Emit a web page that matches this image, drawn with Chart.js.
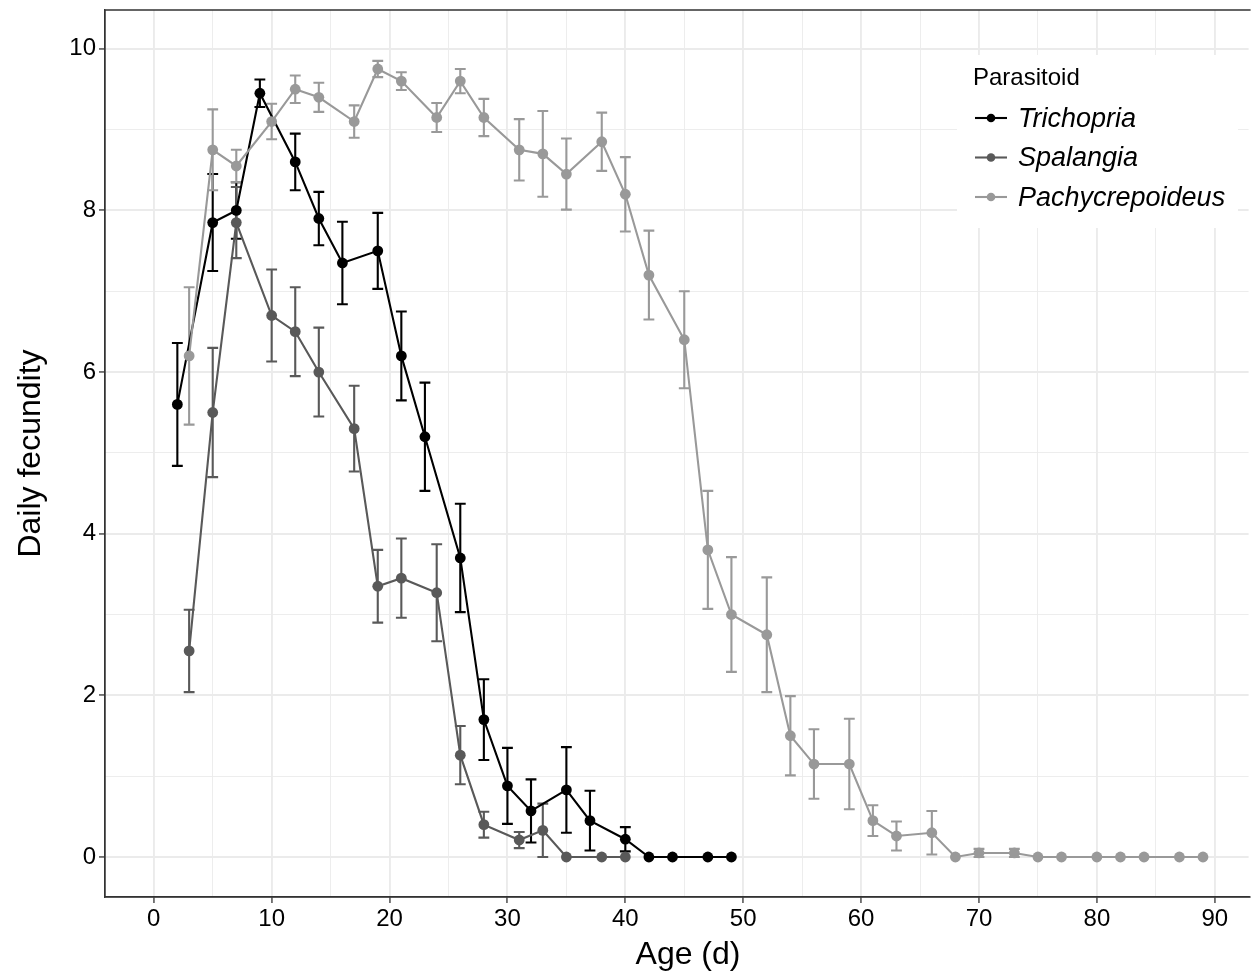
<!DOCTYPE html>
<html>
<head>
<meta charset="utf-8">
<title>Daily fecundity by parasitoid age</title>
<script src="https://cdn.jsdelivr.net/npm/chart.js@4.4.1/dist/chart.umd.min.js"></script>
<style>
  html, body { margin: 0; padding: 0; background: #ffffff; overflow: hidden; }
  #chart { display: block; }
</style>
</head>
<body>
<canvas id="chart" width="1254" height="973"></canvas>
<script>
// Age (days), mean daily fecundity and standard error for each parasitoid
const trichopriaAge  = [2, 5, 7, 9, 12, 14, 16, 19, 21, 23, 26, 28, 30, 32, 35, 37, 40, 42, 44, 47, 49];
const trichopriaMean = [5.6, 7.85, 8.0, 9.45, 8.6, 7.9, 7.35, 7.5, 6.2, 5.2, 3.7, 1.7, 0.88, 0.57, 0.83, 0.45, 0.22, 0, 0, 0, 0];
const trichopriaSe   = [0.76, 0.6, 0.35, 0.17, 0.35, 0.33, 0.51, 0.47, 0.55, 0.67, 0.67, 0.5, 0.47, 0.39, 0.53, 0.37, 0.15, 0, 0, 0, 0];

const spalangiaAge  = [3, 5, 7, 10, 12, 14, 17, 19, 21, 24, 26, 28, 31, 33, 35, 38, 40];
const spalangiaMean = [2.55, 5.5, 7.85, 6.7, 6.5, 6.0, 5.3, 3.35, 3.45, 3.27, 1.26, 0.4, 0.21, 0.33, 0, 0, 0];
const spalangiaSe   = [0.51, 0.8, 0.44, 0.57, 0.55, 0.55, 0.53, 0.45, 0.49, 0.6, 0.36, 0.16, 0.1, 0.33, 0, 0, 0];

const pachyAge  = [3, 5, 7, 10, 12, 14, 17, 19, 21, 24, 26, 28, 31, 33, 35, 38, 40, 42, 45, 47, 49, 52, 54, 56, 59, 61, 63, 66, 68, 70, 73, 75, 77, 80, 82, 84, 87, 89];
const pachyMean = [6.2, 8.75, 8.55, 9.1, 9.5, 9.4, 9.1, 9.75, 9.6, 9.15, 9.6, 9.15, 8.75, 8.7, 8.45, 8.85, 8.2, 7.2, 6.4, 3.8, 3.0, 2.75, 1.5, 1.15, 1.15, 0.45, 0.26, 0.3, 0, 0.05, 0.05, 0, 0, 0, 0, 0, 0, 0];
const pachySe   = [0.85, 0.5, 0.2, 0.22, 0.17, 0.18, 0.2, 0.1, 0.11, 0.18, 0.15, 0.23, 0.38, 0.53, 0.44, 0.36, 0.46, 0.55, 0.6, 0.73, 0.71, 0.71, 0.49, 0.43, 0.56, 0.19, 0.18, 0.27, 0, 0.05, 0.05, 0, 0, 0, 0, 0, 0, 0];

const seriesNames  = ['Trichopria', 'Spalangia', 'Pachycrepoideus'];
const seriesColors = ['#000000', '#595959', '#999999'];

const legendTitle = 'Parasitoid';
const xTitle = 'Age (d)';
const yTitle = 'Daily fecundity';

const FONT = "'Liberation Sans', Arial, Helvetica, sans-serif";

function points(ages, means) {
  return ages.map((a, i) => ({ x: a, y: means[i] }));
}

const seriesData = [
  { age: trichopriaAge, mean: trichopriaMean, se: trichopriaSe },
  { age: spalangiaAge,  mean: spalangiaMean,  se: spalangiaSe },
  { age: pachyAge,      mean: pachyMean,      se: pachySe }
];

const datasets = seriesData.map((s, i) => ({
  label: seriesNames[i],
  data: points(s.age, s.mean),
  se: s.se,
  borderColor: seriesColors[i],
  backgroundColor: seriesColors[i],
  pointBackgroundColor: seriesColors[i],
  pointBorderWidth: 0,
  pointRadius: 5.4,
  borderWidth: 2.1,
  tension: 0,
  order: 3 - i
}));

// Error bars (mean ± SE) drawn beneath the lines and points
const errorBars = {
  id: 'errorBars',
  beforeDatasetsDraw(chart) {
    const { ctx, scales: { x, y } } = chart;
    const capHalf = 0.46;
    ctx.save();
    ctx.lineWidth = 2.1;
    ctx.lineCap = 'butt';
    chart.data.datasets.forEach((ds) => {
      ctx.strokeStyle = ds.borderColor;
      ds.data.forEach((p, i) => {
        const se = ds.se[i];
        if (!se) return;
        const px = x.getPixelForValue(p.x);
        const yTop = y.getPixelForValue(p.y + se);
        const yBot = y.getPixelForValue(p.y - se);
        const xl = x.getPixelForValue(p.x - capHalf);
        const xr = x.getPixelForValue(p.x + capHalf);
        ctx.beginPath();
        ctx.moveTo(px, yTop); ctx.lineTo(px, yBot);
        ctx.moveTo(xl, yTop); ctx.lineTo(xr, yTop);
        ctx.moveTo(xl, yBot); ctx.lineTo(xr, yBot);
        ctx.stroke();
      });
    });
    ctx.restore();
  }
};

// Panel frame (left, top, bottom) on top of the data; the panel runs past the right edge
const panelFrame = {
  id: 'panelFrame',
  afterDatasetsDraw(chart) {
    const { ctx, chartArea: a } = chart;
    ctx.save();
    ctx.strokeStyle = '#333333';
    ctx.lineWidth = 1.3;
    ctx.beginPath();
    ctx.moveTo(a.right + 2, a.top); ctx.lineTo(a.left, a.top);
    ctx.lineTo(a.left, a.bottom); ctx.lineTo(a.right + 2, a.bottom);
    ctx.stroke();
    ctx.restore();
  }
};

// x-axis title, centred under the full panel width
const xAxisTitle = {
  id: 'xAxisTitle',
  afterDraw(chart) {
    const { ctx } = chart;
    ctx.save();
    ctx.fillStyle = '#000000';
    ctx.font = '32px ' + FONT;
    ctx.textAlign = 'center';
    ctx.textBaseline = 'middle';
    ctx.fillText(xTitle, 688, 955);
    ctx.restore();
  }
};

// Legend box placed inside the panel, top right
const insetLegend = {
  id: 'insetLegend',
  afterDraw(chart) {
    const { ctx } = chart;
    const box = { x: 957, y: 55, w: 281, h: 173 };
    ctx.save();
    ctx.fillStyle = '#ffffff';
    ctx.fillRect(box.x, box.y, box.w, box.h);
    ctx.fillStyle = '#000000';
    ctx.textBaseline = 'middle';
    ctx.textAlign = 'left';
    ctx.font = '24px ' + FONT;
    ctx.fillText(legendTitle, 973, 78);
    chart.data.datasets.forEach((ds, i) => {
      const cy = 118 + i * 39.5;
      ctx.strokeStyle = ds.borderColor;
      ctx.lineWidth = 2.1;
      ctx.beginPath();
      ctx.moveTo(975, cy); ctx.lineTo(1007, cy);
      ctx.stroke();
      ctx.fillStyle = ds.borderColor;
      ctx.beginPath();
      ctx.arc(991, cy, 4.3, 0, Math.PI * 2);
      ctx.fill();
      ctx.fillStyle = '#000000';
      ctx.font = 'italic 27px ' + FONT;
      ctx.fillText(ds.label, 1018, cy + 1);
    });
    ctx.restore();
  }
};

// Keep the panel edges fixed: no extra room reserved for overhanging tick labels
function flushEdges(scale) {
  scale.paddingTop = 0;
  scale.paddingBottom = 0;
  scale.paddingLeft = 0;
  scale.paddingRight = 0;
}

const gridColor = '#EBEBEB';

new Chart(document.getElementById('chart'), {
  type: 'line',
  data: { datasets },
  plugins: [errorBars, panelFrame, xAxisTitle, insetLegend],
  options: {
    responsive: false,
    devicePixelRatio: 1,
    animation: false,
    layout: { padding: { top: 10, left: 0, right: 0, bottom: 0 } },
    plugins: { legend: { display: false }, tooltip: { enabled: false } },
    scales: {
      x: {
        type: 'linear',
        min: -4.137,
        max: 92.87,
        afterFit(scale) { scale.height = 76; flushEdges(scale); },
        ticks: {
          stepSize: 5,
          includeBounds: false,
          autoSkip: false,
          maxRotation: 0,
          padding: 2,
          color: '#000000',
          font: { family: FONT, size: 24 },
          callback: (v) => (v % 10 === 0 ? String(v) : '')
        },
        grid: {
          color: gridColor,
          lineWidth: (c) => (c.tick && c.tick.value % 10 === 0 ? 1.9 : 0.9),
          tickLength: 6,
          tickWidth: 1.3,
          tickColor: (c) => (c.tick && c.tick.value % 10 === 0 ? '#333333' : 'rgba(0,0,0,0)')
        },
        border: { display: true, color: '#333333', width: 1.3 },
        title: { display: false, text: xTitle }
      },
      y: {
        type: 'linear',
        min: -0.495,
        max: 10.48,
        afterFit(scale) { scale.width = 105; flushEdges(scale); },
        ticks: {
          stepSize: 1,
          includeBounds: false,
          autoSkip: false,
          padding: 3,
          color: '#000000',
          font: { family: FONT, size: 24 },
          callback: (v) => (v % 2 === 0 ? String(v) : '')
        },
        grid: {
          color: gridColor,
          lineWidth: (c) => (c.tick && c.tick.value % 2 === 0 ? 1.9 : 0.9),
          tickLength: 6,
          tickWidth: 1.3,
          tickColor: (c) => (c.tick && c.tick.value % 2 === 0 ? '#333333' : 'rgba(0,0,0,0)')
        },
        border: { display: true, color: '#333333', width: 1.3 },
        title: {
          display: true,
          text: yTitle,
          color: '#000000',
          font: { family: FONT, size: 32 },
          padding: { top: 12, bottom: 0 }
        }
      }
    }
  }
});
</script>
</body>
</html>
